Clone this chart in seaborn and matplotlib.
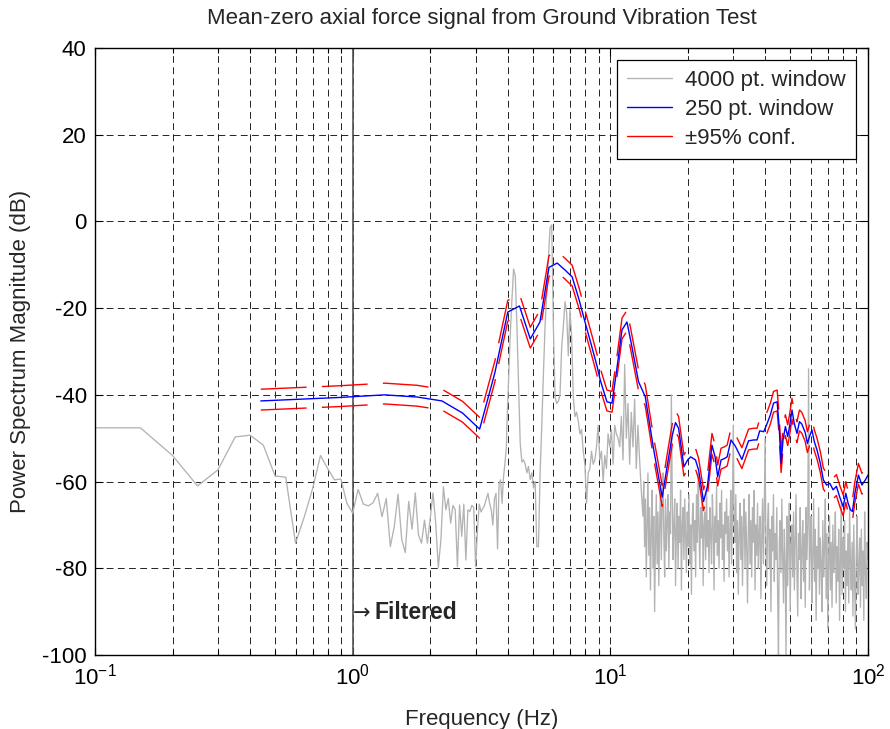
import numpy as np
import pandas as pd
import matplotlib
matplotlib.use("Agg")
import matplotlib.pyplot as plt
from matplotlib.lines import Line2D
import seaborn as sns

# ---------------- data ----------------
title = "Mean-zero axial force signal from Ground Vibration Test"
xlabel = "Frequency (Hz)"
ylabel = "Power Spectrum Magnitude (dB)"
legend_labels = ["4000 pt. window", "250 pt. window", "\u00b195% conf."]

# 4000-point window, low band: bins every 0.05 Hz from 0.10 Hz
gray_df = 0.05
gray_db_low = [-47.6, -47.6, -54.0, -61.0, -57.3, -49.7, -49.3, -51.6, -58.7, -59.0,
               -74.2, -68.0, -61.5, -54.0, -57.0, -59.6, -59.4, -65.0, -67.3, -61.8,
               -65.2, -65.6, -64.9, -62.7, -68.1, -63.9, -75.0, -70.4, -62.9, -73.3,
               -76.4, -64.6, -71.0, -62.6, -72.3, -74.2, -68.9, -74.2, -68.5, -62.6,
               -69.6, -79.8, -73.5, -61.2, -66.5, -63.9, -69.6, -65.5, -66.5, -79.6,
               -65.4, -72.6, -65.2, -78.1, -66.5, -66.9, -65.5, -66.0, -79.6, -71.2,
               -65.2, -67.0, -66.2, -65.5, -64.0, -62.7, -65.0, -66.5, -70.0, -64.0,
               -62.7, -75.5, -60.4, -59.6, -65.0, -58.9, -55.8, -51.9]

# 4000-point window, 3.97 .. 13.4 Hz (log-spaced read-out)
gray_mid_range = (3.97, 13.38)
gray_db_mid = [-46.6, -36.0, -26.0, -18.0, -11.0, -12.5, -24.0, -38.0, -51.2, -55.5,
               -55.0, -56.0, -58.0, -56.5, -59.5, -58.0, -61.5, -60.0, -75.0, -75.0,
               -58.0, -47.0, -35.0, -24.0, -16.6, -8.5, -1.5, -0.8, -24.3, -40.5,
               -42.0, -41.5, -40.0, -29.0, -24.3, -18.5, -21.0, -31.0, -20.4, -26.6,
               -40.4, -45.0, -44.0, -46.0, -49.0, -48.0, -53.0, -56.0, -65.0, -58.0,
               -57.0, -53.0, -56.0, -55.0, -52.0, -47.0, -55.0, -53.0, -60.0, -54.0,
               -57.0, -49.0, -52.0, -48.0, -56.0, -47.0, -49.0, -50.0,
               -52.0, -45.0, -55.0, -33.0, -50.0, -42.0, -56.0, -44.0, -52.0, -41.0,
               -57.0, -47.0, -55.0, -62.0, -68.0]

# 4000-point window, 13.4 .. 100 Hz (log-spaced read-out)
gray_high_range = (13.38, 100.0)
gray_db_high = [
    -68, -60, -75, -64, -82, -70, -58, -77, -66, -85,
    -72, -62, -80, -68, -90, -74, -63, -79, -67, -84,
    -70, -61, -78, -66, -58, -73, -82, -64, -76, -69,
    -63, -80, -67, -72, -40, -62, -78, -70, -64, -84,
    -71, -65, -80, -68, -74, -62, -85, -70, -66, -78,
    -64, -72, -81, -67, -75, -63, -79, -70, -86, -68,
    -65, -76, -69, -82, -63, -74, -58, -71, -80, -66,
    -73, -64, -84, -70, -67, -78, -62, -75, -69, -81,
    -66, -72, -79, -63, -70, -85, -68, -74, -61, -77,
    -69, -80, -65, -73, -62, -78, -70, -83, -67, -72,
    -64, -76, -68, -82, -71, -62, -79, -66, -47, -70,
    -74, -63, -81, -69, -86, -72, -65, -78, -68, -84,
    -70, -64, -80, -67, -75, -88, -71, -63, -79, -69,
    -82, -66, -74, -62, -85, -70, -77, -65, -80, -72,
    -68, -87, -73, -64, -79, -67, -50, -75, -84, -70,
    -65, -80, -71, -90, -68, -76, -63, -83, -72, -78,
    -66, -86, -100, -74, -69, -81, -64, -77, -88, -71,
    -79, -100, -68, -84, -73, -65, -90, -75, -70, -82,
    -67, -85, -74, -63, -80, -91, -72, -78, -66, -87,
    -76, -69, -83, -72, -89, -66, -78, -70, -34, -85,
    -74, -68, -88, -77, -64, -83, -71, -92, -75, -80,
    -66, -86, -73, -79, -90, -69, -82, -75, -64, -87,
    -72, -94, -78, -68, -85, -74, -89, -70, -81, -76,
    -67, -88, -75, -83, -71, -92, -78, -65, -86, -73,
    -80, -69, -90, -76, -84, -72, -88, -66, -79, -85,
    -74, -91, -70, -83, -94, -77, -68, -86, -80, -73,
    -89, -71, -84, -76, -92, -67, -81, -87, -74, -78]

# 250-point window estimate
blue_f = [0.44, 0.89, 1.33, 1.78, 2.22, 2.67, 3.11, 3.56, 4.00, 4.44,
          4.89, 5.33, 5.78, 6.22, 6.67, 7.11, 7.56, 8.00, 8.44, 8.89,
          9.14, 9.7, 10.15, 10.6, 11.1, 11.6, 12.0, 12.87, 13.66, 14.7,
          15.9, 16.6, 17.4, 17.9, 18.4, 19.3, 19.96, 20.5, 21.4, 22.0,
          23.0, 23.8, 24.8, 25.5, 26.1, 26.9, 27.7, 28.4, 29.4, 30.6,
          32.4, 34.4, 36.0, 37.1, 38.0, 39.4, 40.6, 41.8, 43.0, 44.4,
          45.2, 46.0, 46.8, 47.8, 48.8, 49.6, 50.7, 51.7, 53.0, 54.2,
          55.3, 57.0, 58.2, 59.3, 60.6, 61.9, 63.4, 65.3, 67.1, 69.1,
          71.1, 73.2, 75.4, 77.6, 80.1, 82.0, 83.7, 85.5, 87.0, 88.9,
          91.8, 94.7, 97.7, 100.0]
blue_db = [-41.4, -40.6, -40.0, -40.5, -41.4, -44.2, -47.9, -35.0, -20.9, -19.5,
           -27.1, -23.2, -10.6, -9.6, -11.2, -12.8, -18.0, -23.5, -28.5, -33.5,
           -36.6, -41.6, -41.9, -34.0, -25.0, -23.2, -27.5, -37.0, -40.4, -52.3,
           -63.6, -56.6, -49.3, -46.4, -47.7, -56.6, -55.0, -54.3, -55.0, -57.3,
           -64.6, -61.2, -51.6, -54.3, -58.9, -55.0, -54.7, -54.3, -50.4, -51.9,
           -54.9, -50.6, -50.4, -50.4, -48.3, -48.5, -46.6, -44.6, -41.9, -41.6,
           -47.3, -55.8, -50.4, -47.3, -49.6, -47.3, -43.5, -46.5, -48.9, -46.2,
           -46.7, -48.6, -51.2, -49.6, -48.1, -50.8, -52.7, -55.8, -59.6, -60.8,
           -60.4, -61.9, -61.1, -63.5, -65.8, -62.7, -65.0, -66.5, -66.9, -62.8,
           -58.5, -60.8, -59.6, -58.5]
conf_upper_offset = 2.7   # dB above the 250-pt estimate
conf_lower_offset = 2.1   # dB below the 250-pt estimate

filter_freq = 1.0
annot_arrow = "\u2192"
annot_word = "Filtered"
annot_y = -90.3

# ---------------- build series ----------------
gray_f = np.concatenate([
    gray_df * np.arange(2, 2 + len(gray_db_low)),
    np.geomspace(*gray_mid_range, len(gray_db_mid)),
    np.geomspace(*gray_high_range, len(gray_db_high)),
])
gray_db = np.concatenate([gray_db_low, gray_db_mid, gray_db_high])
gray_tab = pd.DataFrame({"f": gray_f, "db": gray_db})

blue_tab = pd.DataFrame({"f": blue_f, "db": blue_db})
blue_tab["up"] = blue_tab["db"] + conf_upper_offset
blue_tab["lo"] = blue_tab["db"] - conf_lower_offset

# ---------------- plot ----------------
sns.set_theme(style="white")
plt.rcParams["font.family"] = ["Liberation Sans", "DejaVu Sans"]
plt.rcParams["mathtext.fontset"] = "custom"
plt.rcParams["mathtext.rm"] = "Liberation Sans"
plt.rcParams["mathtext.it"] = "Liberation Sans"
plt.rcParams["axes.unicode_minus"] = False

FS = 16

fig = plt.figure(figsize=(8.9, 7.29), dpi=100)
W, H = 890, 729
ax = fig.add_axes([95 / W, 1 - 655 / H, (868 - 95) / W, (655 - 48) / H])

gray_c = "#b3b3b3"
sns.lineplot(data=gray_tab, x="f", y="db", ax=ax, color=gray_c, lw=0.95,
             estimator=None, sort=False, zorder=2)
sns.lineplot(data=blue_tab, x="f", y="db", ax=ax, color="#0000ff", lw=1.0,
             estimator=None, sort=False, zorder=4)
for col in ["up", "lo"]:
    sns.lineplot(data=blue_tab, x="f", y=col, ax=ax, color="#ff0000", lw=1.0,
                 estimator=None, sort=False, zorder=3)
    ax.lines[-1].set_dashes((33, 11))

ax.axvline(filter_freq, color="#555555", lw=1.2, zorder=1)
ax.text(filter_freq, annot_y, annot_arrow, fontsize=15, family="DejaVu Sans",
        ha="left", va="center", zorder=5)
ax.annotate(annot_word, (filter_freq, annot_y), xytext=(16, 0),
            textcoords="offset points", fontsize=16.5, fontweight="bold",
            ha="left", va="center", zorder=5)

ax.set_xscale("log")
ax.set_xlim(0.1, 100)
ax.set_ylim(-100, 40)
ax.set_yticks(np.arange(-100, 41, 20))

ax.grid(True, which="major", axis="both", color="#222222", lw=0.7,
        linestyle=(0, (7, 4.5)))
ax.grid(True, which="minor", axis="x", color="#222222", lw=0.7,
        linestyle=(0, (7, 4.5)))
ax.set_axisbelow(True)

ax.tick_params(which="both", direction="in", top=True, right=True,
               bottom=True, left=True, labelsize=FS, colors="black")
ax.tick_params(which="major", length=6, width=0.8, pad=6)
ax.tick_params(which="minor", length=3.5, width=0.8)
for s in ax.spines.values():
    s.set_color("black")
    s.set_linewidth(1.0)

ax.set_title(title, fontsize=FS, pad=17)
ax.set_xlabel(xlabel, fontsize=FS, labelpad=14)
ax.set_ylabel(ylabel, fontsize=FS, labelpad=8)

handles = [Line2D([], [], color=gray_c, lw=1.0),
           Line2D([], [], color="#0000ff", lw=1.0),
           Line2D([], [], color="#ff0000", lw=1.0)]
leg = ax.legend(handles, legend_labels, loc="upper right", fontsize=FS,
                frameon=True, fancybox=False, framealpha=1, edgecolor="black",
                borderaxespad=0.55, handlelength=2.0, handletextpad=0.6,
                labelspacing=0.36, borderpad=0.45)
leg.get_frame().set_linewidth(0.9)

fig.savefig("out.png", dpi=100)
